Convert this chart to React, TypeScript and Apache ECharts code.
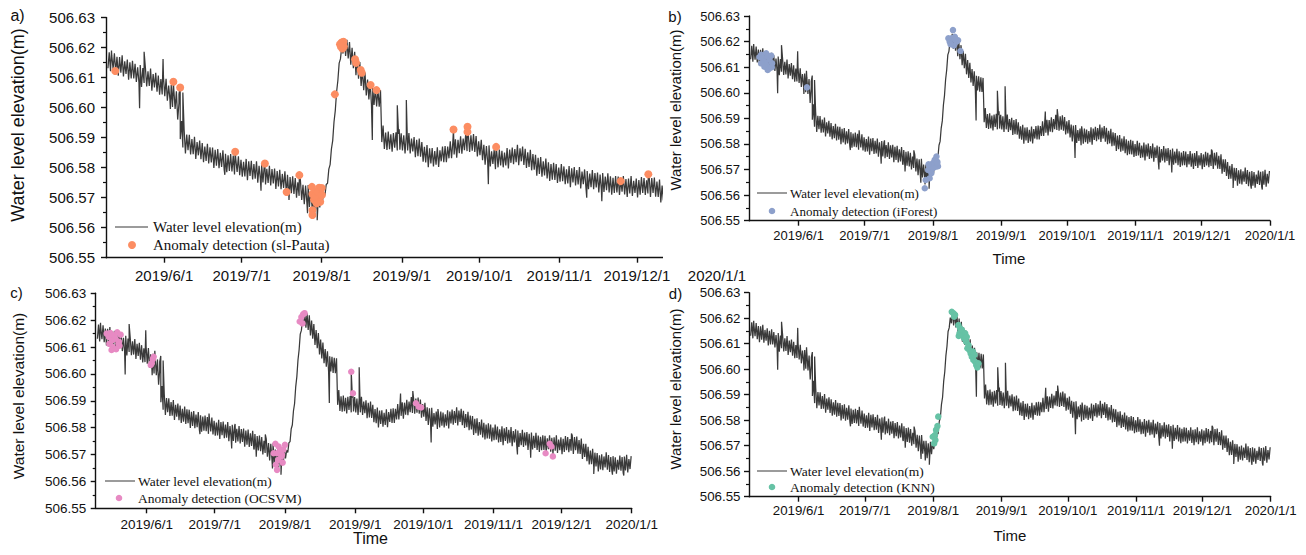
import React, { useEffect, useRef } from 'react';
import * as echarts from 'echarts';

type Pair = [number, number];
type Stamped = [string, number];

// Axis ranges
const X_START = '2019-05-09T12:00';
const X_END = '2020-01-01';
const Y_MIN = 506.55;
const Y_MAX = 506.63;
const Y_STEP = 0.01;

const monthTicks = ['2019/6/1', '2019/7/1', '2019/8/1', '2019/9/1', '2019/10/1', '2019/11/1', '2019/12/1', '2020/1/1'];

// Daily envelope of the gauge record, [lowest, highest] water level (m) per day
const bandMay: Pair[] = [ // 2019-05-10 .. 05-31
  [506.6131, 506.6184], [506.6121, 506.6172], [506.6129, 506.6181], [506.6118, 506.6169], [506.6106, 506.6168],
  [506.6116, 506.6174], [506.6104, 506.6154], [506.6112, 506.6160], [506.6093, 506.6151], [506.6097, 506.6156],
  [506.6097, 506.6146], [506.6085, 506.6134], [506.6084, 506.6142], [506.6069, 506.6132], [506.6082, 506.6133],
  [506.6070, 506.6121], [506.6072, 506.6130], [506.6056, 506.6112], [506.6067, 506.6116], [506.6053, 506.6107],
  [506.6043, 506.6095], [506.6044, 506.6101],
];
const bandJun: Pair[] = [
  [506.6038, 506.6096], [506.6023, 506.6073], [506.6027, 506.6075], [506.6002, 506.6060], [506.5995, 506.6054],
  [506.5960, 506.6015], [506.5895, 506.5955], [506.5867, 506.5925], [506.5847, 506.5910], [506.5858, 506.5909],
  [506.5844, 506.5895], [506.5845, 506.5903], [506.5829, 506.5885], [506.5841, 506.5890], [506.5828, 506.5882],
  [506.5818, 506.5870], [506.5822, 506.5879], [506.5814, 506.5868], [506.5817, 506.5867], [506.5799, 506.5859],
  [506.5806, 506.5862], [506.5798, 506.5849], [506.5802, 506.5858], [506.5792, 506.5846], [506.5785, 506.5841],
  [506.5789, 506.5845], [506.5787, 506.5840], [506.5777, 506.5828], [506.5786, 506.5838], [506.5775, 506.5826],
];
const bandJul: Pair[] = [
  [506.5770, 506.5819], [506.5771, 506.5829], [506.5758, 506.5821], [506.5772, 506.5823], [506.5761, 506.5812],
  [506.5763, 506.5821], [506.5750, 506.5806], [506.5762, 506.5811], [506.5751, 506.5805], [506.5744, 506.5796],
  [506.5749, 506.5806], [506.5741, 506.5795], [506.5747, 506.5797], [506.5729, 506.5789], [506.5737, 506.5793],
  [506.5728, 506.5779], [506.5732, 506.5788], [506.5722, 506.5776], [506.5713, 506.5769], [506.5715, 506.5771],
  [506.5712, 506.5765], [506.5700, 506.5751], [506.5706, 506.5758], [506.5692, 506.5743], [506.5678, 506.5740],
  [506.5684, 506.5742], [506.5669, 506.5719], [506.5671, 506.5719], [506.5651, 506.5709], [506.5656, 506.5715],
  [506.5667, 506.5716],
];
const bandAug: Pair[] = [
  [506.5686, 506.5716], [506.5708, 506.5744], [506.5748, 506.5795], [506.5810, 506.5862], [506.5890, 506.5952],
  [506.5990, 506.6052], [506.6090, 506.6148], [506.6162, 506.6202], [506.6180, 506.6230], [506.6172, 506.6226],
  [506.6164, 506.6218], [506.6143, 506.6199], [506.6131, 506.6186], [506.6108, 506.6163], [506.6096, 506.6152],
  [506.6072, 506.6128], [506.6058, 506.6117], [506.6040, 506.6093], [506.6027, 506.6084], [506.6010, 506.6066],
  [506.6009, 506.6064], [506.6004, 506.6060], [506.6003, 506.6058], [506.5885, 506.5940], [506.5862, 506.5917],
  [506.5859, 506.5920], [506.5861, 506.5911], [506.5853, 506.5915], [506.5866, 506.5918], [506.5857, 506.5912],
  [506.5860, 506.5914],
];
const bandSep: Pair[] = [
  [506.5857, 506.5908], [506.5847, 506.5909], [506.5857, 506.5915], [506.5847, 506.5897], [506.5854, 506.5902],
  [506.5835, 506.5893], [506.5838, 506.5897], [506.5836, 506.5885], [506.5820, 506.5869], [506.5817, 506.5875],
  [506.5801, 506.5864], [506.5814, 506.5865], [506.5804, 506.5855], [506.5810, 506.5868], [506.5802, 506.5858],
  [506.5821, 506.5870], [506.5818, 506.5872], [506.5818, 506.5870], [506.5831, 506.5888], [506.5831, 506.5885],
  [506.5844, 506.5894], [506.5833, 506.5893], [506.5848, 506.5904], [506.5846, 506.5897], [506.5858, 506.5914],
  [506.5855, 506.5909], [506.5852, 506.5908], [506.5856, 506.5912], [506.5852, 506.5905], [506.5837, 506.5888],
];
const bandOct: Pair[] = [
  [506.5841, 506.5893], [506.5825, 506.5876], [506.5810, 506.5872], [506.5816, 506.5874], [506.5804, 506.5854],
  [506.5812, 506.5860], [506.5795, 506.5853], [506.5801, 506.5860], [506.5807, 506.5856], [506.5801, 506.5850],
  [506.5807, 506.5865], [506.5797, 506.5860], [506.5816, 506.5867], [506.5811, 506.5862], [506.5818, 506.5876],
  [506.5808, 506.5864], [506.5821, 506.5870], [506.5809, 506.5863], [506.5799, 506.5851], [506.5802, 506.5859],
  [506.5791, 506.5845], [506.5793, 506.5843], [506.5773, 506.5833], [506.5779, 506.5835], [506.5770, 506.5821],
  [506.5774, 506.5830], [506.5764, 506.5818], [506.5756, 506.5812], [506.5760, 506.5816], [506.5759, 506.5812],
  [506.5749, 506.5800],
];
const bandNov: Pair[] = [
  [506.5753, 506.5812], [506.5755, 506.5804], [506.5745, 506.5794], [506.5747, 506.5805], [506.5735, 506.5798],
  [506.5751, 506.5802], [506.5741, 506.5792], [506.5744, 506.5802], [506.5731, 506.5787], [506.5745, 506.5794],
  [506.5735, 506.5789], [506.5728, 506.5780], [506.5735, 506.5792], [506.5728, 506.5782], [506.5734, 506.5784],
  [506.5717, 506.5777], [506.5726, 506.5782], [506.5719, 506.5770], [506.5725, 506.5781], [506.5717, 506.5771],
  [506.5710, 506.5766], [506.5716, 506.5772], [506.5717, 506.5770], [506.5709, 506.5760], [506.5720, 506.5772],
  [506.5711, 506.5762], [506.5702, 506.5764], [506.5714, 506.5772], [506.5706, 506.5756], [506.5716, 506.5764],
];
const bandDec: Pair[] = [
  [506.5701, 506.5759], [506.5710, 506.5769], [506.5716, 506.5765], [506.5709, 506.5758], [506.5714, 506.5772],
  [506.5702, 506.5765], [506.5716, 506.5767], [506.5703, 506.5754], [506.5702, 506.5760], [506.5684, 506.5740],
  [506.5691, 506.5740], [506.5675, 506.5729], [506.5663, 506.5715], [506.5664, 506.5721], [506.5653, 506.5707],
  [506.5656, 506.5706], [506.5637, 506.5697], [506.5645, 506.5701], [506.5642, 506.5693], [506.5652, 506.5708],
  [506.5644, 506.5698], [506.5635, 506.5691], [506.5638, 506.5694], [506.5637, 506.5690], [506.5629, 506.5680],
  [506.5644, 506.5696], [506.5640, 506.5691], [506.5631, 506.5693], [506.5641, 506.5699], [506.5633, 506.5683],
  [506.5646, 506.5694],
];

const bands: [string, Pair[]][] = [
  ['2019-05-10', bandMay], ['2019-06-01', bandJun], ['2019-07-01', bandJul], ['2019-08-01', bandAug],
  ['2019-09-01', bandSep], ['2019-10-01', bandOct], ['2019-11-01', bandNov], ['2019-12-01', bandDec],
];

// Isolated readings that stand out of the daily envelope
const spikes: Stamped[] = [
  ['2019-05-11T15:00', 506.6190], ['2019-05-22T12:00', 506.5998], ['2019-05-24T06:00', 506.6186],
  ['2019-05-31T14:00', 506.6162], ['2019-06-03T10:00', 506.5995], ['2019-06-04T14:00', 506.6086],
  ['2019-06-06T18:00', 506.6045], ['2019-06-07T05:00', 506.6067], ['2019-06-08T06:00', 506.6050],
  ['2019-06-24T12:00', 506.5776], ['2019-06-28T12:00', 506.5853], ['2019-07-08T12:00', 506.5723],
  ['2019-07-10T00:00', 506.5814], ['2019-07-18T10:00', 506.5719], ['2019-07-19T08:00', 506.5692],
  ['2019-07-23T08:00', 506.5775], ['2019-07-26T12:00', 506.5648], ['2019-07-28T10:00', 506.5642],
  ['2019-07-30T06:00', 506.5625], ['2019-08-20T14:00', 506.5892], ['2019-08-30T06:00', 506.6008],
  ['2019-08-31T00:00', 506.5928], ['2019-09-02T18:00', 506.6025], ['2019-09-21T00:00', 506.5927],
  ['2019-09-26T10:00', 506.5936], ['2019-10-04T12:00', 506.5745], ['2019-10-07T12:00', 506.5869],
  ['2019-11-11T14:00', 506.5700], ['2019-11-17T10:00', 506.5688], ['2019-12-05T10:00', 506.5778],
  ['2019-12-15T06:00', 506.5628], ['2019-12-23T12:00', 506.5625], ['2019-12-28T12:00', 506.5622],
];

// Points flagged by each detector
const anomaliesSlPauta: Stamped[] = [
  ['2019-05-13T02:00', 506.6122], ['2019-06-04T14:00', 506.6086], ['2019-06-07T05:00', 506.6067],
  ['2019-06-28T12:00', 506.5853], ['2019-07-10T00:00', 506.5814], ['2019-07-18T10:00', 506.5719],
  ['2019-07-23T08:00', 506.5775],
  ['2019-07-28T05:00', 506.5736], ['2019-07-28T10:00', 506.5712], ['2019-07-29T00:00', 506.5694],
  ['2019-07-29T17:00', 506.5719], ['2019-07-30T07:00', 506.5703], ['2019-07-31T00:00', 506.5733],
  ['2019-07-31T10:00', 506.5686], ['2019-07-28T10:00', 506.5658], ['2019-07-28T10:00', 506.5642],
  ['2019-07-31T14:00', 506.5714], ['2019-07-30T00:00', 506.5681], ['2019-07-29T05:00', 506.5705],
  ['2019-07-30T14:00', 506.5719], ['2019-08-01T00:00', 506.5732], ['2019-08-01T02:00', 506.5709],
  ['2019-08-06T02:00', 506.6044],
  ['2019-08-08T02:00', 506.6211], ['2019-08-08T17:00', 506.6217], ['2019-08-09T10:00', 506.6219],
  ['2019-08-09T14:00', 506.6203], ['2019-08-09T00:00', 506.6197], ['2019-08-08T10:00', 506.6203],
  ['2019-08-13T22:00', 506.6161], ['2019-08-14T07:00', 506.6149], ['2019-08-16T02:00', 506.6125],
  ['2019-08-16T12:00', 506.6116], ['2019-08-19T22:00', 506.6075], ['2019-08-22T05:00', 506.6058],
  ['2019-09-21T00:00', 506.5927], ['2019-09-26T10:00', 506.5936], ['2019-09-26T10:00', 506.5919],
  ['2019-10-07T12:00', 506.5869], ['2019-11-24T17:00', 506.5755], ['2019-12-05T10:00', 506.5778],
];

const anomaliesIForest: Stamped[] = [
  ['2019-05-14T06:00', 506.6140], ['2019-05-15T00:00', 506.6148], ['2019-05-15T19:00', 506.6135],
  ['2019-05-16T12:00', 506.6122], ['2019-05-17T07:00', 506.6154], ['2019-05-18T00:00', 506.6141],
  ['2019-05-18T19:00', 506.6128], ['2019-05-19T14:00', 506.6145], ['2019-05-17T07:00', 506.6109],
  ['2019-05-18T19:00', 506.6096], ['2019-05-16T12:00', 506.6102], ['2019-05-20T00:00', 506.6115],
  ['2019-05-15T00:00', 506.6115], ['2019-05-18T00:00', 506.6089], ['2019-05-19T20:00', 506.6100],
  ['2019-06-04T19:00', 506.6021],
  ['2019-07-28T07:00', 506.5627], ['2019-07-28T17:00', 506.5659], ['2019-07-30T12:00', 506.5666],
  ['2019-07-29T19:00', 506.5698], ['2019-07-31T07:00', 506.5718], ['2019-08-01T00:00', 506.5725],
  ['2019-08-01T19:00', 506.5738], ['2019-08-02T14:00', 506.5751], ['2019-08-02T07:00', 506.5711],
  ['2019-08-03T07:00', 506.5713], ['2019-08-01T00:00', 506.5705], ['2019-08-02T22:00', 506.5725],
  ['2019-07-31T07:00', 506.5686], ['2019-07-30T00:00', 506.5720], ['2019-08-03T00:00', 506.5730],
  ['2019-08-08T14:00', 506.6200], ['2019-08-09T10:00', 506.6213], ['2019-08-10T02:00', 506.6245],
  ['2019-08-10T22:00', 506.6219], ['2019-08-11T17:00', 506.6200], ['2019-08-08T00:00', 506.6213],
  ['2019-08-10T12:00', 506.6185], ['2019-08-12T10:00', 506.6205], ['2019-08-09T00:00', 506.6190],
  ['2019-08-11T00:00', 506.6208],
  ['2019-08-13T12:00', 506.6163],
];

const anomaliesOcsvm: Stamped[] = [
  ['2019-05-14T08:00', 506.6150], ['2019-05-15T06:00', 506.6138], ['2019-05-16T00:00', 506.6152],
  ['2019-05-16T18:00', 506.6125], ['2019-05-17T12:00', 506.6143], ['2019-05-18T06:00', 506.6131],
  ['2019-05-19T00:00', 506.6155], ['2019-05-19T18:00', 506.6120], ['2019-05-20T12:00', 506.6146],
  ['2019-05-15T12:00', 506.6112], ['2019-05-17T00:00', 506.6100], ['2019-05-18T12:00', 506.6092],
  ['2019-05-20T00:00', 506.6105], ['2019-05-16T12:00', 506.6089], ['2019-05-19T12:00', 506.6113],
  ['2019-06-02T19:00', 506.6033], ['2019-06-03T17:00', 506.6055], ['2019-06-04T02:00', 506.6064],
  ['2019-06-03T06:00', 506.6040],
  ['2019-07-27T00:00', 506.5705], ['2019-07-27T19:00', 506.5740], ['2019-07-29T05:00', 506.5730],
  ['2019-07-28T12:00', 506.5705], ['2019-07-29T22:00', 506.5718], ['2019-07-30T17:00', 506.5699],
  ['2019-07-29T00:00', 506.5680], ['2019-07-28T00:00', 506.5662], ['2019-07-28T12:00', 506.5643],
  ['2019-07-31T00:00', 506.5670], ['2019-08-01T00:00', 506.5736], ['2019-07-30T10:00', 506.5693],
  ['2019-07-31T07:00', 506.5718],
  ['2019-08-07T12:00', 506.6195], ['2019-08-08T06:00', 506.6212], ['2019-08-09T00:00', 506.6222],
  ['2019-08-09T16:00', 506.6226], ['2019-08-08T18:00', 506.6188],
  ['2019-08-30T06:00', 506.6008], ['2019-08-31T00:00', 506.5928],
  ['2019-09-27T19:00', 506.5891], ['2019-09-29T00:00', 506.5878], ['2019-09-30T02:00', 506.5875],
  ['2019-11-24T00:00', 506.5705], ['2019-11-25T19:00', 506.5740], ['2019-11-26T14:00', 506.5730],
  ['2019-11-27T05:00', 506.5693],
];

const anomaliesKnn: Stamped[] = [
  ['2019-07-31T19:00', 506.5735], ['2019-08-01T10:00', 506.5709], ['2019-08-01T19:00', 506.5742],
  ['2019-08-02T00:00', 506.5722], ['2019-08-02T07:00', 506.5762], ['2019-08-02T22:00', 506.5777],
  ['2019-08-03T07:00', 506.5814],
  ['2019-08-09T10:00', 506.6225], ['2019-08-10T05:00', 506.6219], ['2019-08-10T12:00', 506.6206],
  ['2019-08-10T22:00', 506.6213], ['2019-08-12T10:00', 506.6173], ['2019-08-12T14:00', 506.6130],
  ['2019-08-12T22:00', 506.6141], ['2019-08-13T05:00', 506.6160], ['2019-08-14T00:00', 506.6154],
  ['2019-08-14T10:00', 506.6134], ['2019-08-15T00:00', 506.6121], ['2019-08-15T12:00', 506.6141],
  ['2019-08-15T22:00', 506.6108], ['2019-08-16T05:00', 506.6127], ['2019-08-16T12:00', 506.6082],
  ['2019-08-17T00:00', 506.6095], ['2019-08-17T10:00', 506.6075], ['2019-08-18T00:00', 506.6062],
  ['2019-08-18T12:00', 506.6049], ['2019-08-19T00:00', 506.6069], ['2019-08-19T05:00', 506.6036],
  ['2019-08-19T17:00', 506.6056], ['2019-08-20T00:00', 506.6029], ['2019-08-20T12:00', 506.6016],
  ['2019-08-21T00:00', 506.6007], ['2019-08-21T12:00', 506.6023], ['2019-08-15T22:00', 506.6125],
];

const LEVEL_NAME = 'Water level elevation(m)';
const AXIS_TITLE_X = 'Time';

const SANS = 'Arial, "Liberation Sans", Helvetica, sans-serif';
const SERIF = '"Times New Roman", "Liberation Serif", "DejaVu Serif", serif';
const INK = '#111111';
const DAY = 86400000;

function toTime(s: string): number {
  const [datePart, timePart] = s.split('T');
  const [y, m, d] = datePart.split(/[-/]/).map(Number);
  const [hh, mm] = timePart ? timePart.split(':').map(Number) : [0, 0];
  return new Date(y, m - 1, d, hh, mm).getTime();
}

function formatDay(v: number): string {
  const d = new Date(v);
  return `${d.getFullYear()}/${d.getMonth() + 1}/${d.getDate()}`;
}

// Recorded level: each day drawn from its low to its high reading, plus isolated spikes
function buildLevelPoints(): [number, number][] {
  const pts: [number, number][] = [];
  for (const [start, days] of bands) {
    const t0 = toTime(start);
    days.forEach(([lo, hi], i) => {
      pts.push([t0 + i * DAY + 0.25 * DAY, lo]);
      pts.push([t0 + i * DAY + 0.75 * DAY, hi]);
    });
  }
  for (const [s, v] of spikes) pts.push([toTime(s), v]);
  pts.sort((a, b) => a[0] - b[0]);
  return pts;
}

const levelPoints = buildLevelPoints();
const tickTimes = monthTicks.map(toTime);

interface PanelSpec {
  box: { left: number; top: number; width: number; height: number; background?: string };
  grid: { left: number; top: number; width: number; height: number };
  letter: string;
  letterPos: [number, number];
  letterSize: number;
  tickFont: number;
  yLabelMargin: number;
  xLabelMargin: number;
  yTitlePos: [number, number];
  yTitleSize: number;
  timePos?: [number, number];
  timeSize?: number;
  legend: { x1: number; x2: number; y1: number; y2: number; textX: number; markerX: number; fontSize: number; r: number };
  method: string;
  color: string;
  marker: number;
  points: Stamped[];
}

const panels: PanelSpec[] = [
  {
    box: { left: 0, top: 0, width: 760, height: 283 },
    grid: { left: 106, top: 17.5, width: 611, height: 240.2 },
    letter: 'a)', letterPos: [17.5, 15.5], letterSize: 16,
    tickFont: 15, yLabelMargin: 11, xLabelMargin: 10,
    yTitlePos: [18, 125], yTitleSize: 18,
    legend: { x1: 115, x2: 148, y1: 227, y2: 245, textX: 153, markerX: 132, fontSize: 15, r: 4 },
    method: 'sl-Pauta', color: '#FC8D62', marker: 8, points: anomaliesSlPauta,
  },
  {
    box: { left: 663, top: 0, width: 643, height: 268, background: '#ffffff' },
    grid: { left: 86, top: 16, width: 521, height: 204.7 },
    letter: 'b)', letterPos: [12, 16], letterSize: 15,
    tickFont: 13, yLabelMargin: 9, xLabelMargin: 8.5,
    yTitlePos: [12, 110], yTitleSize: 15,
    timePos: [346, 258], timeSize: 15,
    legend: { x1: 94, x2: 124, y1: 193, y2: 211, textX: 127, markerX: 109, fontSize: 13, r: 3.3 },
    method: 'iForest', color: '#8DA0CB', marker: 6.5, points: anomaliesIForest,
  },
  {
    box: { left: 0, top: 283, width: 661, height: 272 },
    grid: { left: 95.7, top: 10.3, width: 549.3, height: 215 },
    letter: 'c)', letterPos: [16.5, 9], letterSize: 15,
    tickFont: 13.5, yLabelMargin: 9.5, xLabelMargin: 9,
    yTitlePos: [18, 113], yTitleSize: 15.5,
    timePos: [370.5, 255], timeSize: 16,
    legend: { x1: 105, x2: 135, y1: 198, y2: 215, textX: 138, markerX: 119, fontSize: 13.5, r: 3.3 },
    method: 'OCSVM', color: '#E78AC3', marker: 6.5, points: anomaliesOcsvm,
  },
  {
    box: { left: 661, top: 283, width: 645, height: 272, background: '#ffffff' },
    grid: { left: 88, top: 9.7, width: 521.7, height: 204 },
    letter: 'd)', letterPos: [14.5, 10], letterSize: 15,
    tickFont: 13.3, yLabelMargin: 8.5, xLabelMargin: 7.5,
    yTitlePos: [14, 106], yTitleSize: 15,
    timePos: [349, 252], timeSize: 15,
    legend: { x1: 96, x2: 126, y1: 188, y2: 204, textX: 129, markerX: 111, fontSize: 13.5, r: 3.3 },
    method: 'KNN', color: '#66C2A5', marker: 6.5, points: anomaliesKnn,
  },
];

function buildOption(p: PanelSpec) {
  const axisLineStyle = { color: INK, width: 1.4 };
  const lg = p.legend;
  const graphic: any[] = [
    {
      type: 'text', x: p.letterPos[0], y: p.letterPos[1],
      style: { text: p.letter, fontSize: p.letterSize, fontFamily: SANS, fill: INK, align: 'center', verticalAlign: 'middle' },
    },
    {
      type: 'text', x: p.yTitlePos[0], y: p.yTitlePos[1], rotation: Math.PI / 2,
      style: { text: LEVEL_NAME, fontSize: p.yTitleSize, fontFamily: SANS, fill: INK, align: 'center', verticalAlign: 'middle' },
    },
    {
      type: 'line', shape: { x1: lg.x1, y1: lg.y1, x2: lg.x2, y2: lg.y1 },
      style: { stroke: '#7a7a7a', lineWidth: 1.5 },
    },
    {
      type: 'text', x: lg.textX, y: lg.y1,
      style: { text: LEVEL_NAME, fontSize: lg.fontSize, fontFamily: SERIF, fill: INK, align: 'left', verticalAlign: 'middle' },
    },
    {
      type: 'circle', shape: { cx: lg.markerX, cy: lg.y2, r: lg.r },
      style: { fill: p.color },
    },
    {
      type: 'text', x: lg.textX, y: lg.y2,
      style: { text: `Anomaly detection (${p.method})`, fontSize: lg.fontSize, fontFamily: SERIF, fill: INK, align: 'left', verticalAlign: 'middle' },
    },
  ];
  if (p.timePos) {
    graphic.push({
      type: 'text', x: p.timePos[0], y: p.timePos[1],
      style: { text: AXIS_TITLE_X, fontSize: p.timeSize, fontFamily: SANS, fill: INK, align: 'center', verticalAlign: 'middle' },
    });
  }

  return {
    animation: false,
    grid: { ...p.grid, containLabel: false },
    xAxis: {
      type: 'value',
      min: toTime(X_START),
      max: toTime(X_END),
      axisLine: { show: true, onZero: false, lineStyle: axisLineStyle },
      axisTick: { show: true, length: 5, customValues: tickTimes, lineStyle: axisLineStyle },
      axisLabel: {
        customValues: tickTimes,
        formatter: (v: number) => formatDay(v),
        fontSize: p.tickFont, fontFamily: SANS, color: INK, margin: p.xLabelMargin,
      },
      splitLine: { show: false },
      minorTick: { show: false },
    },
    yAxis: {
      type: 'value',
      min: Y_MIN,
      max: Y_MAX,
      interval: Y_STEP,
      axisLine: { show: true, onZero: false, lineStyle: axisLineStyle },
      axisTick: { show: true, length: 5, lineStyle: axisLineStyle },
      minorTick: { show: true, splitNumber: 2, length: 3, lineStyle: { color: INK, width: 1.2 } },
      axisLabel: {
        formatter: (v: number) => v.toFixed(2),
        fontSize: p.tickFont, fontFamily: SANS, color: INK, margin: p.yLabelMargin,
      },
      splitLine: { show: false },
    },
    series: [
      {
        name: LEVEL_NAME,
        type: 'line',
        data: levelPoints,
        showSymbol: false,
        symbol: 'none',
        silent: true,
        lineStyle: { color: '#3a3a3a', width: 1.25 },
        z: 2,
      },
      {
        name: `Anomaly detection (${p.method})`,
        type: 'scatter',
        data: p.points.map(([t, v]) => [toTime(t), v]),
        symbol: 'circle',
        symbolSize: p.marker,
        itemStyle: { color: p.color, opacity: 1 },
        z: 3,
      },
    ],
    graphic,
  };
}

function Panel({ spec }: { spec: PanelSpec }) {
  const ref = useRef<HTMLDivElement>(null);
  useEffect(() => {
    if (!ref.current) return;
    const chart = echarts.init(ref.current, undefined, { renderer: 'svg' });
    chart.setOption(buildOption(spec) as any);
    return () => chart.dispose();
  }, [spec]);
  const b = spec.box;
  return (
    <div
      ref={ref}
      style={{
        position: 'absolute', left: b.left, top: b.top, width: b.width, height: b.height,
        background: b.background ?? 'transparent',
      }}
    />
  );
}

export default function App() {
  return (
    <div style={{ position: 'fixed', left: 0, top: 0, width: 1306, height: 555, background: '#ffffff', overflow: 'hidden' }}>
      {panels.map((p) => (
        <Panel key={p.letter} spec={p} />
      ))}
    </div>
  );
}
